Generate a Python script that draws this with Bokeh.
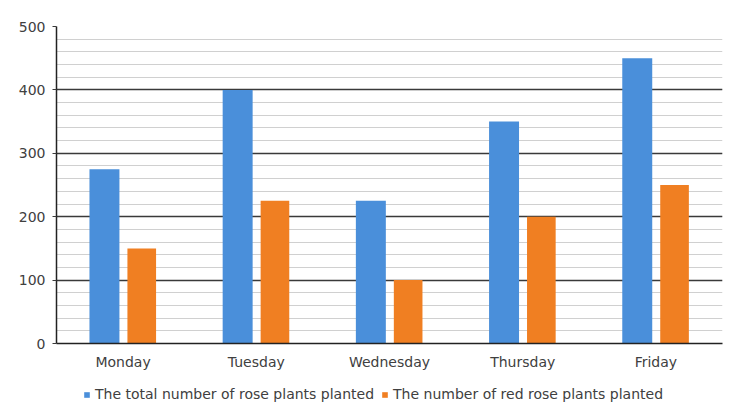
from bokeh.plotting import figure
from bokeh.models import (ColumnDataSource, Range1d, FactorRange, SingleIntervalTicker,
                          Legend, LegendItem)
from bokeh.layouts import column
from bokeh.transform import dodge
from bokeh.embed import file_html
from bokeh.resources import INLINE

days = ["Monday", "Tuesday", "Wednesday", "Thursday", "Friday"]
total_planted = [275, 400, 225, 350, 450]
red_planted = [150, 225, 100, 200, 250]
series_names = ["The total number of rose plants planted", "The number of red rose plants planted"]
colors = ["#4A8FDA", "#F07F22"]

src = ColumnDataSource(dict(day=days, total=total_planted, red=red_planted))

p = figure(width=728, height=380, x_range=FactorRange(*days, range_padding=0),
           y_range=Range1d(0, 500), output_backend="svg", toolbar_location=None,
           min_border_left=56, min_border_right=6, min_border_top=26,
           min_border_bottom=37)

r1 = p.vbar(x=dodge("day", -0.14, range=p.x_range), top="total", width=0.225,
            source=src, color=colors[0], line_color=None)
r2 = p.vbar(x=dodge("day", 0.14, range=p.x_range), top="red", width=0.215,
            source=src, color=colors[1], line_color=None)

p.outline_line_color = None
p.background_fill_color = "white"
p.border_fill_color = "white"

p.xgrid.grid_line_color = None
p.yaxis.ticker = SingleIntervalTicker(interval=100, num_minor_ticks=5)
p.ygrid.grid_line_color = "#3a3a3a"
p.ygrid.grid_line_width = 1.5
p.ygrid.minor_grid_line_color = "#d0d0d0"
p.ygrid.minor_grid_line_width = 1

for ax in (p.xaxis, p.yaxis):
    ax.axis_line_color = "#222222"
    ax.axis_line_width = 1.5
    ax.major_label_text_font = "DejaVu Sans"
    ax.major_label_text_font_size = "14px"
    ax.major_label_text_color = "#404040"
    ax.minor_tick_line_color = None

p.xaxis.major_tick_line_color = None
p.xaxis.major_label_standoff = 4
p.yaxis.major_tick_line_color = "#3a3a3a"
p.yaxis.major_tick_in = 0
p.yaxis.major_tick_out = 4
p.yaxis.major_label_standoff = 7

# separate strip holding the legend (keeps it from being clipped)
lg = figure(width=728, height=24, x_range=Range1d(0, 1), y_range=Range1d(0, 1),
            output_backend="svg", toolbar_location=None,
            x_axis_type=None, y_axis_type=None,
            min_border_left=0, min_border_right=0, min_border_top=0, min_border_bottom=0)
lg.outline_line_color = None
lg.grid.grid_line_color = None
# one off-screen row per swatch so the legend can draw its glyph
swatch = ColumnDataSource(dict(x=[-10], top=[0]))
d1 = lg.vbar(x="x", top="top", width=0.1, source=swatch, color=colors[0], line_color=None)
d2 = lg.vbar(x="x", top="top", width=0.1, source=swatch, color=colors[1], line_color=None)

legend = Legend(items=[LegendItem(label=series_names[0], renderers=[d1]),
                       LegendItem(label=series_names[1], renderers=[d2])],
                orientation="horizontal", location=(27, 2),
                label_text_font="DejaVu Sans", label_text_font_size="14px",
                label_text_color="#404040", glyph_width=7, glyph_height=7,
                spacing=7, label_standoff=5, padding=2, margin=0,
                border_line_color=None, background_fill_alpha=0)
lg.add_layout(legend, "center")

open("out.html", "w").write(file_html(column(p, lg, spacing=0), INLINE))
